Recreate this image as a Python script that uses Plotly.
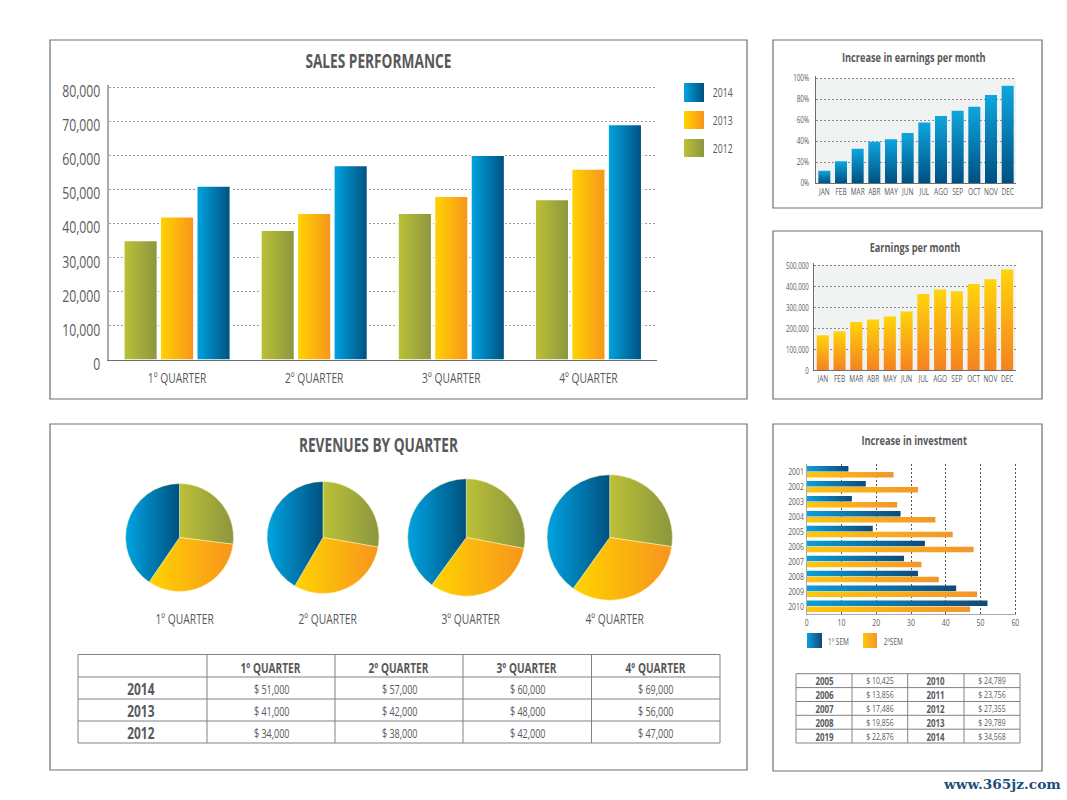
import json
import plotly.graph_objects as go

W, H = 1067, 800
FONT = "Open Sans, sans-serif"
GREY = "#58595b"
CONDENSE = 0.72

# ---- data ----
quarters = ["1º QUARTER", "2º QUARTER", "3º QUARTER", "4º QUARTER"]
sales_2012 = [35000, 38000, 43000, 47000]
sales_2013 = [42000, 43000, 48000, 56000]
sales_2014 = [51000, 57000, 60000, 69000]
months = ["JAN", "FEB", "MAR", "ABR", "MAY", "JUN", "JUL", "AGO", "SEP", "OCT", "NOV", "DEC"]
increase_pct = [12, 21, 33, 39.5, 42, 48, 58, 64, 69, 73, 84, 93]
earnings = [165000, 185000, 228000, 240000, 255000, 278000, 362000, 383000, 375000, 410000, 432000, 478000]
invest_years = [2001, 2002, 2003, 2004, 2005, 2006, 2007, 2008, 2009, 2010]
invest_sem1 = [12, 17, 13, 27, 19, 34, 28, 32, 43, 52]
invest_sem2 = [25, 32, 26, 37, 42, 48, 33, 38, 49, 47]
rev_2014 = [51000, 57000, 60000, 69000]
rev_2013 = [41000, 42000, 48000, 56000]
rev_2012 = [34000, 38000, 42000, 47000]
side_years_a = ["2005", "2006", "2007", "2008", "2019"]
side_vals_a = [10425, 13856, 17486, 19856, 22876]
side_years_b = ["2010", "2011", "2012", "2013", "2014"]
side_vals_b = [24789, 23756, 27355, 29789, 34568]

# ---- styles: flat base colour -> gradient painted after drawing ----
C_OLIVE = "rgb(160, 172, 58)"
C_ORANGE = "rgb(252, 180, 16)"
C_BLUE = "rgb(8, 122, 180)"
C_BLUE_V = "rgb(9, 120, 178)"
C_ORANGE_V = "rgb(251, 178, 20)"
C_BLUE_H = "rgb(10, 118, 172)"
C_ORANGE_H = "rgb(250, 176, 24)"
GRADIENTS = {
    C_OLIVE: [1, 0, "#bcc136", "#8b963f"],
    C_ORANGE: [1, 0, "#ffd400", "#f7941d"],
    C_BLUE: [1, 0, "#00a4e2", "#00517f"],
    C_BLUE_V: [0, 1, "#0ea6df", "#004f80"],
    C_ORANGE_V: [0, 1, "#ffd40a", "#f58220"],
    C_BLUE_H: [1, 0, "#0a9fda", "#0f4a76"],
    C_ORANGE_H: [1, 0, "#ffc60b", "#f4952b"],
}


def fx(x):
    return x / W


def fy(y):
    return 1 - y / H


shapes, annotations = [], []


def rect(x0, y0, x1, y1, fill="rgba(0,0,0,0)", line="#6d6e71", lw=1.2):
    shapes.append(dict(type="rect", xref="paper", yref="paper", x0=fx(x0), x1=fx(x1), y0=fy(y0), y1=fy(y1),
                       fillcolor=fill, line=dict(color=line, width=lw), layer="below"))


def hv(x0, y0, x1, y1, color="#808285", lw=1):
    shapes.append(dict(type="line", xref="paper", yref="paper", x0=fx(x0), x1=fx(x1), y0=fy(y0), y1=fy(y1),
                       line=dict(color=color, width=lw), layer="above"))


def label(x, y, text, size, bold=False, anchor="center", color=GREY, family=FONT):
    annotations.append(dict(xref="paper", yref="paper", x=fx(x), y=fy(y), text=f"<b>{text}</b>" if bold else text,
                            showarrow=False, xanchor=anchor, yanchor="middle",
                            font=dict(family=family, size=size, color=color)))


def swatch(x0, y0, x1, y1, color):
    shapes.append(dict(type="rect", xref="paper", yref="paper", x0=fx(x0), x1=fx(x1), y0=fy(y0), y1=fy(y1),
                       fillcolor=color, line=dict(width=0), layer="above"))


# ---- panels ----
for p in [(50, 40, 747, 399), (50, 424, 747, 770), (773, 40, 1042, 208), (773, 231, 1042, 399), (773, 424, 1042, 771)]:
    rect(*p, fill="white")
# light panel behind the two monthly charts
for x0, x1, y0, y1 in [(816, 1016, 78.3, 183.3), (814.4, 1015.5, 265, 370)]:
    rect(x0, y0, x1, y1, fill="#f1f2f2", lw=0)

fig = go.Figure()

# ---- sales performance ----
BW, PITCH = 0.245, 0.266
for vals, name, col, off in [(sales_2012, "2012", C_OLIVE, -1), (sales_2013, "2013", C_ORANGE, 0), (sales_2014, "2014", C_BLUE, 1)]:
    fig.add_trace(go.Bar(x=quarters, y=vals, name=name, width=BW, offset=off * PITCH - BW / 2,
                         marker=dict(color=col, line=dict(color="white", width=1.5)),
                         xaxis="x", yaxis="y", showlegend=False, hoverinfo="x+y+name"))
label(378, 61, "SALES PERFORMANCE", 19, bold=True)
for y0, y1, col, name in [(83, 102, C_BLUE, "2014"), (111, 129, C_ORANGE, "2013"), (139, 157, C_OLIVE, "2012")]:
    swatch(684, y0, 704, y1, col)
    label(707, (y0 + y1) / 2 + 0.5, name, 12, anchor="left")


def grid_axis(**kw):
    base = dict(showgrid=True, griddash="2px,2px", zeroline=False, ticks="", showline=True, linewidth=1.5,
                automargin=False, fixedrange=True)
    base.update(kw)
    return base


def cat_axis(**kw):
    base = dict(showgrid=False, zeroline=False, showline=True, linecolor="#6d6e71", linewidth=1, ticks="",
                tickangle=0, automargin=False, fixedrange=True)
    base.update(kw)
    return base


layout_axes = dict(
    xaxis=cat_axis(domain=[fx(108.5), fx(657)], anchor="y", linewidth=1.2, ticklabelstandoff=5,
                   tickfont=dict(family=FONT, size=14.3, color=GREY)),
    yaxis=grid_axis(domain=[fy(360), fy(84.5)], anchor="x", range=[0, 80733], dtick=10000, tickformat=",", gridcolor="#9a9c9e",
                    linecolor="#a7a9ac", ticklabelstandoff=3, ticklabelshift=4, tickfont=dict(family=FONT, size=17, color=GREY)),
)

# ---- increase in earnings ----
fig.add_trace(go.Bar(x=months, y=increase_pct, width=0.72, marker=dict(color=C_BLUE_V, line=dict(width=0)),
                     xaxis="x2", yaxis="y2", showlegend=False, name="Increase"))
label(914, 57, "Increase in earnings per month", 12.8, bold=True)
layout_axes.update(
    xaxis2=cat_axis(domain=[fx(816), fx(1016)], anchor="y2", tickfont=dict(family=FONT, size=9, color=GREY)),
    yaxis2=grid_axis(domain=[fy(183.3), fy(75.78)], anchor="x2", range=[0, 102.4], dtick=20, ticksuffix="%", gridcolor="#8a8c8e",
                     linecolor="#6d6e71", linewidth=1, ticklabelstandoff=4, tickfont=dict(family=FONT, size=8.8, color=GREY)),
)

# ---- earnings per month ----
fig.add_trace(go.Bar(x=months, y=earnings, width=0.72, marker=dict(color=C_ORANGE_V, line=dict(width=0)),
                     xaxis="x3", yaxis="y3", showlegend=False, name="Earnings"))
label(914.5, 247, "Earnings per month", 12.8, bold=True)
layout_axes.update(
    xaxis3=cat_axis(domain=[fx(814.4), fx(1015.5)], anchor="y3", tickfont=dict(family=FONT, size=9, color=GREY)),
    yaxis3=grid_axis(domain=[fy(370), fy(262.5)], anchor="x3", range=[0, 511905], dtick=100000, tickformat=",", gridcolor="#8a8c8e",
                     linecolor="#6d6e71", linewidth=1, ticklabelstandoff=3, ticklabelshift=1, tickfont=dict(family=FONT, size=8.5, color=GREY)),
)

# ---- increase in investment ----
fig.add_trace(go.Bar(y=invest_years, x=invest_sem1, orientation="h", width=0.37, offset=-0.38,
                     marker=dict(color=C_BLUE_H, line=dict(width=0)), xaxis="x4", yaxis="y4", showlegend=False, name="1º SEM"))
fig.add_trace(go.Bar(y=invest_years, x=invest_sem2, orientation="h", width=0.37, offset=0.02,
                     marker=dict(color=C_ORANGE_H, line=dict(width=0)), xaxis="x4", yaxis="y4", showlegend=False, name="2ºSEM"))
label(914.5, 440, "Increase in investment", 12.8, bold=True)
layout_axes.update(
    xaxis4=grid_axis(domain=[fx(806.7), fx(1016.3)], anchor="y4", range=[0, 60.29], dtick=10, gridcolor="#58595b",
                     linecolor="#a7a9ac", linewidth=1, tickfont=dict(family=FONT, size=9.5, color=GREY)),
    yaxis4=cat_axis(domain=[fy(614), fy(464)], anchor="x4", range=[2010.52, 2000.48], tickvals=invest_years,
                    linecolor="#a7a9ac", tickfont=dict(family=FONT, size=9.5, color=GREY)),
)
swatch(807, 633, 822, 648, C_BLUE_H)
label(821.5, 641, "1º SEM", 9, anchor="left")
swatch(863, 633, 877, 648, C_ORANGE_H)
label(877.5, 641, "2ºSEM", 9, anchor="left")

# ---- revenues pies ----
label(378, 445, "REVENUES BY QUARTER", 19, bold=True)
PIE_CX = [179.5, 323, 466.3, 609.7]
PIE_R = [54, 56, 58.7, 62.7]
PIE_CY = 537.5
for i, q in enumerate(quarters):
    cx, r = PIE_CX[i], PIE_R[i]
    fig.add_trace(go.Pie(values=[rev_2012[i], rev_2013[i], rev_2014[i]], labels=["2012", "2013", "2014"],
                         domain=dict(x=[fx(cx - r), fx(cx + r)], y=[fy(PIE_CY + r), fy(PIE_CY - r)]),
                         sort=False, direction="clockwise", rotation=0, textinfo="none", showlegend=False,
                         marker=dict(colors=[C_OLIVE, C_ORANGE, C_BLUE], line=dict(color="#fff7c0", width=0.5))))
    label(cx + 4.5, 618, q, 14.3)

# ---- main table ----
TX = [78, 207, 335, 463, 591.5, 720]
TY = [654.5, 677, 699, 721, 743]
for y in TY:
    hv(TX[0], y, TX[-1], y)
for x in TX:
    hv(x, TY[0], x, TY[-1])
for j, q in enumerate(quarters):
    label((TX[j + 1] + TX[j + 2]) / 2, (TY[0] + TY[1]) / 2 + 2, q, 14, bold=True)
for r, (yr, vals) in enumerate([("2014", rev_2014), ("2013", rev_2013), ("2012", rev_2012)]):
    yc = (TY[r + 1] + TY[r + 2]) / 2
    label((TX[0] + TX[1]) / 2 - 1.5, yc, yr, 16.5, bold=True)
    for j, v in enumerate(vals):
        label((TX[j + 1] + TX[j + 2]) / 2, yc + 1.5, f"$ {v:,}", 12.5)

# ---- side table ----
SX = [796, 852, 907.7, 964, 1020]
SY = [673.7, 687.6, 701.5, 715.3, 729.2, 743]
for y in SY:
    hv(SX[0], y, SX[-1], y)
for x in SX:
    hv(x, SY[0], x, SY[-1])
for r in range(5):
    yc = (SY[r] + SY[r + 1]) / 2 + 0.3
    label((SX[0] + SX[1]) / 2, yc, side_years_a[r], 11, bold=True)
    label((SX[1] + SX[2]) / 2, yc, f"$ {side_vals_a[r]:,}", 9.6)
    label((SX[2] + SX[3]) / 2, yc, side_years_b[r], 11, bold=True)
    label((SX[3] + SX[4]) / 2, yc, f"$ {side_vals_b[r]:,}", 9.6)

# ---- watermark ----
label(1002, 784, "<b>www.365jz.com</b>", 13.7, color="#1d4f7c", family="DejaVu Serif, serif")

fig.update_layout(width=W, height=H, autosize=False, margin=dict(l=0, r=0, t=0, b=0, autoexpand=False), barmode="overlay",
                  paper_bgcolor="white", plot_bgcolor="rgba(0,0,0,0)", shapes=shapes, annotations=annotations,
                  font=dict(family=FONT, color=GREY), **layout_axes)

POST = """
document.body.style.margin='0';document.documentElement.style.overflow='hidden';
var gd=document.getElementById('{plot_id}');var G=%s;var K=%s;
var NS='http://www.w3.org/2000/svg';var s=document.createElementNS(NS,'svg');
s.setAttribute('width','0');s.setAttribute('height','0');s.style.position='absolute';
var d=document.createElementNS(NS,'defs');s.appendChild(d);document.body.appendChild(s);
var ids={},n=0;
Object.keys(G).forEach(function(k){var g=G[k],id='grad'+(n++);ids[k]=id;
 var l=document.createElementNS(NS,'linearGradient');l.setAttribute('id',id);
 l.setAttribute('x1','0');l.setAttribute('y1','0');l.setAttribute('x2',g[0]);l.setAttribute('y2',g[1]);
 [[0,g[2]],[1,g[3]]].forEach(function(t){var c=document.createElementNS(NS,'stop');
  c.setAttribute('offset',t[0]);c.setAttribute('stop-color',t[1]);l.appendChild(c);});
 d.appendChild(l);});
function paint(){
 gd.querySelectorAll('path').forEach(function(p){var f=p.style.fill;
  if(ids[f]){p.style.fill='url(#'+ids[f]+')';}});
 gd.querySelectorAll('text').forEach(function(t){
  if(t.hasAttribute('textLength')||!t.textContent)return;
  if((t.style.fontFamily||'').indexOf('Serif')>=0)return;
  t.setAttribute('lengthAdjust','spacingAndGlyphs');
  t.setAttribute('textLength',t.getComputedTextLength()*K);});
}
paint();gd.on('plotly_afterplot',paint);
""" % (json.dumps(GRADIENTS), CONDENSE)

fig.write_html("out.html", post_script=POST, config=dict(displayModeBar=False))
